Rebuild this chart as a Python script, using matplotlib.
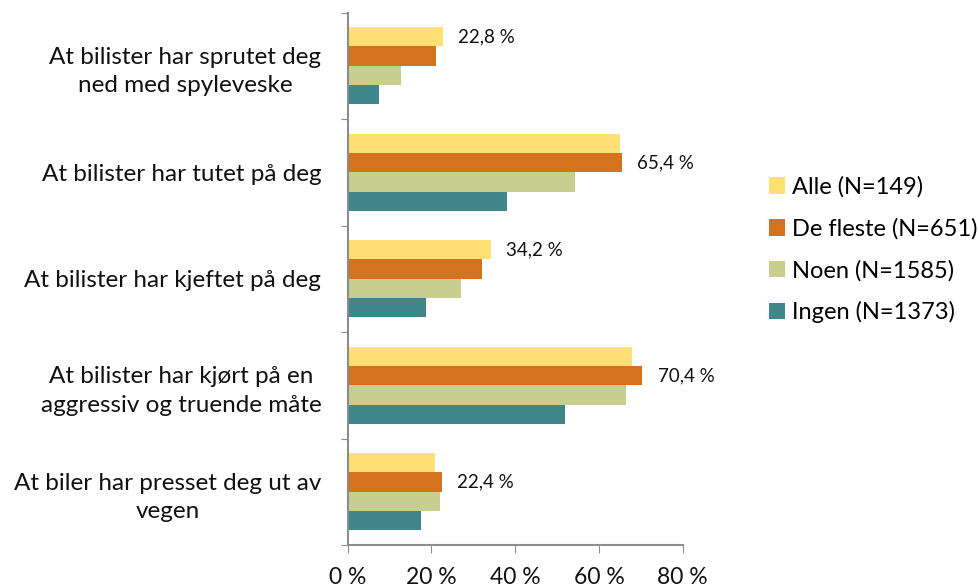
import matplotlib

matplotlib.use("Agg")
import matplotlib.pyplot as plt
import numpy as np

plt.rcParams["font.family"] = ["Lato", "DejaVu Sans"]

CATEGORIES = [
    "At bilister har sprutet deg\nned med spyleveske",
    "At bilister har tutet på deg",
    "At bilister har kjeftet på deg",
    "At bilister har kjørt på en\naggressiv og truende måte",
    "At biler har presset deg ut av\nvegen",
]
SERIES = ["Alle (N=149)", "De fleste (N=651)", "Noen (N=1585)", "Ingen (N=1373)"]
ALLE = [22.8, 65.1, 34.2, 67.9, 20.8]
DE_FLESTE = [21.2, 65.4, 32.1, 70.4, 22.4]
NOEN = [12.7, 54.3, 27.0, 66.4, 22.1]
INGEN = [7.5, 38.1, 18.7, 52.0, 17.4]
X_TICKS = [0, 20, 40, 60, 80]

COLORS = ["#FFE074", "#D4721D", "#C8CD90", "#41868A"]
AXIS = "#8C8C8C"
INK = "#111111"

values = [ALLE, DE_FLESTE, NOEN, INGEN]

fig = plt.figure(figsize=(9.79, 5.88), dpi=100)
ax = fig.add_axes([0.3552, 0.0731, 0.3421, 0.9056])

y = np.arange(len(CATEGORIES))
bh = 0.181
for i, (name, vals, col) in enumerate(zip(SERIES, values, COLORS)):
    offset = (i - 1.5) * bh
    ax.barh(y + offset, vals, bh, color=col, label=name, linewidth=0)

# label the largest bar in each group
arr = np.array(values)
for j in range(len(CATEGORIES)):
    k = int(np.argmax(arr[:, j]))
    v = arr[k, j]
    ax.annotate(f"{v:.1f} %".replace(".", ","), xy=(v, y[j] + (k - 1.5) * bh),
                xytext=(11, 0), textcoords="offset points",
                ha="left", va="center", fontsize=13.5, color=INK)

ax.set_xlim(0, 80)
ax.set_ylim(len(CATEGORIES) - 0.5, -0.5)
ax.set_xticks(X_TICKS)
ax.set_xticklabels([f"{t} %" for t in X_TICKS], fontsize=16.5, color=INK)
ax.tick_params(axis="x", direction="out", length=6, color=AXIS, pad=10)

ax.set_yticks(np.arange(len(CATEGORIES) + 1) - 0.5)
ax.set_yticklabels([])
ax.tick_params(axis="y", which="major", direction="out", length=5, color=AXIS)
ax.set_yticks(y, minor=True)
ax.set_yticklabels(CATEGORIES, minor=True, fontsize=17.5, color=INK,
                   multialignment="center", linespacing=1.45)
ax.tick_params(axis="y", which="minor", length=0, pad=19)

for s in ["top", "right"]:
    ax.spines[s].set_visible(False)
for s in ["left", "bottom"]:
    ax.spines[s].set_color(AXIS)
    ax.spines[s].set_linewidth(1.5)

fig.legend(loc="center left", bbox_to_anchor=(0.785, 0.575), frameon=False,
           fontsize=17, handlelength=0.7, handleheight=0.7,
           handletextpad=0.3, labelspacing=0.85, borderpad=0, borderaxespad=0)

fig.savefig("out.png", dpi=100, facecolor="white")
